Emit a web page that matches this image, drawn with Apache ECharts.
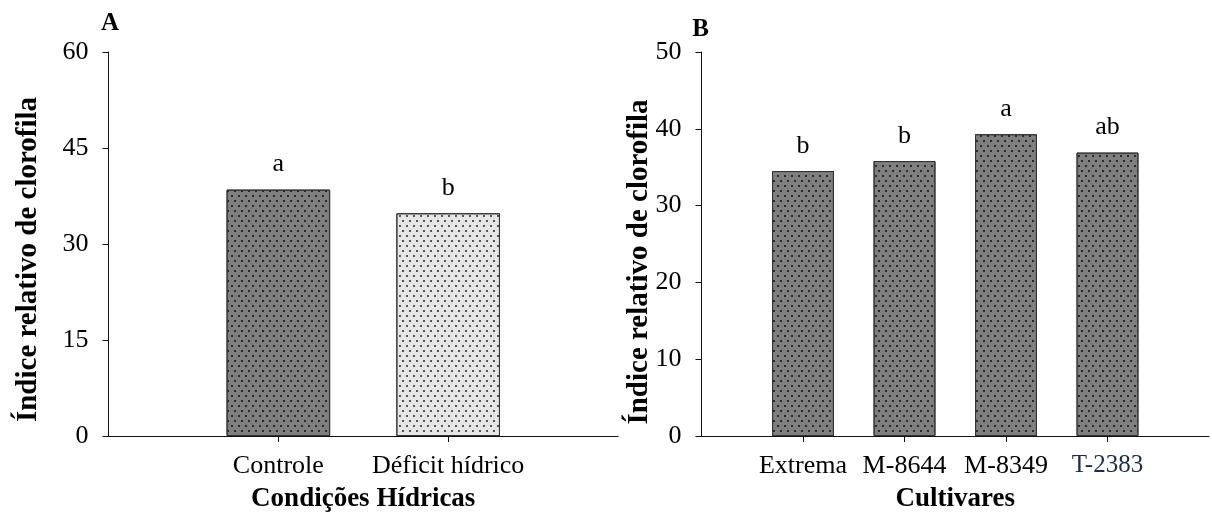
<!DOCTYPE html>
<html>
<head>
<meta charset="utf-8">
<script src="https://cdn.jsdelivr.net/npm/echarts@6/dist/echarts.min.js"></script>
<style>
html,body{margin:0;padding:0;background:#fff;}
#c{width:1212px;height:522px;}
</style>
</head>
<body>
<div id="c"></div>
<script>
// ---- Data ----
const catsA = ['Controle', 'Déficit hídrico'];
const valsA = [38.5, 34.8];
const lettersA = ['a', 'b'];
const colorsA = ['#7f7f7f', '#e6e6e6'];
const dotColorsA = ['#2a2a2a', '#555555'];
const yTicksA = { min: 0, max: 60, interval: 15 };

const catsB = ['Extrema', 'M-8644', 'M-8349', 'T-2383'];
const valsB = [34.5, 35.8, 39.3, 36.9];
const lettersB = ['b', 'b', 'a', 'ab'];
const yTicksB = { min: 0, max: 50, interval: 10 };

const yTitle = 'Índice relativo de clorofila';
const xTitleA = 'Condições Hídricas';
const xTitleB = 'Cultivares';

// ---- Build ----
const FONT = 'Liberation Serif, Times New Roman, serif';
const pad = arr => [''].concat(arr, ['']);
const padV = arr => ['-'].concat(arr, ['-']);

function decal(col) {
  return {
    symbol: 'rect',
    symbolSize: 1,
    color: col,
    dashArrayX: [[1.5, 4.5], [0, 3, 1.5, 1.5]],
    dashArrayY: [1.5, 3],
    rotation: 0
  };
}

const dataA = padV(valsA).map((v, i) => {
  if (v === '-') return '-';
  const k = i - 1;
  return { value: v, itemStyle: { color: colorsA[k], decal: decal(dotColorsA[k]) } };
});
const dataB = padV(valsB).map(v => v === '-' ? '-' : { value: v, itemStyle: { color: '#7f7f7f', decal: decal('#2a2a2a') } });

const axisLineStyle = { show: true, lineStyle: { color: '#111', width: 1 } };

function xAxis(idx, cats, name, special) {
  return {
    type: 'category',
    gridIndex: idx,
    data: pad(cats),
    boundaryGap: false,
    axisLine: axisLineStyle,
    axisTick: { show: true, length: 6, lineStyle: { color: '#111' },
      interval: (i, v) => v !== '' },
    axisLabel: { interval: 0, margin: 17, color: '#000', fontFamily: FONT, fontSize: 26,
      formatter: v => (special && v === special) ? '{t|' + v + '}' : v,
      rich: { t: { color: '#1f2c48', fontFamily: FONT, fontSize: 25, padding: [0, 0, 8, 0] } } },
    splitLine: { show: false },
    name: name,
    nameLocation: 'middle',
    nameGap: 50,
    nameTextStyle: { color: '#000', fontFamily: FONT, fontSize: 27, fontWeight: 'bold' }
  };
}
function yAxis(idx, t) {
  return {
    type: 'value',
    gridIndex: idx,
    min: t.min, max: t.max, interval: t.interval,
    axisLine: axisLineStyle,
    axisTick: { show: true, length: 6, lineStyle: { color: '#111' } },
    axisLabel: { margin: 20, color: '#000', fontFamily: FONT, fontSize: 26 },
    splitLine: { show: false }
  };
}
function labelCfg(letters) {
  return {
    show: true, position: 'top', distance: 12,
    color: '#000', fontFamily: FONT, fontSize: 26,
    formatter: p => letters[p.dataIndex - 1] || ''
  };
}

const chart = echarts.init(document.getElementById('c'), null, { renderer: 'canvas' });
chart.setOption({
  backgroundColor: '#fff',
  animation: false,
  grid: [
    { left: 108.5, right: 594, top: 52, bottom: 86 },
    { left: 701.5, right: 0, top: 52, bottom: 86 }
  ],
  xAxis: [xAxis(0, catsA, xTitleA, null), xAxis(1, catsB, xTitleB, 'T-2383')],
  yAxis: [yAxis(0, yTicksA), yAxis(1, yTicksB)],
  series: [
    { type: 'bar', xAxisIndex: 0, yAxisIndex: 0, data: dataA, barWidth: '61%',
      itemStyle: { borderColor: '#333', borderWidth: 1 }, label: labelCfg(lettersA) },
    { type: 'bar', xAxisIndex: 1, yAxisIndex: 1, data: dataB, barWidth: '61%',
      itemStyle: { borderColor: '#333', borderWidth: 1 }, label: labelCfg(lettersB) }
  ],
  graphic: [
    { type: 'text', x: 28.5, y: 259.5, rotation: Math.PI / 2,
      style: { text: yTitle, fill: '#000', font: 'bold 29px ' + FONT, align: 'center', verticalAlign: 'middle' } },
    { type: 'text', x: 640, y: 262, rotation: Math.PI / 2,
      style: { text: yTitle, fill: '#000', font: 'bold 29px ' + FONT, align: 'center', verticalAlign: 'middle' } },
    { type: 'text', x: 110, y: 24,
      style: { text: 'A', fill: '#000', font: 'bold 25px ' + FONT, align: 'center', verticalAlign: 'middle' } },
    { type: 'text', x: 700.5, y: 30,
      style: { text: 'B', fill: '#000', font: 'bold 25px ' + FONT, align: 'center', verticalAlign: 'middle' } }
  ]
});
</script>
</body>
</html>
